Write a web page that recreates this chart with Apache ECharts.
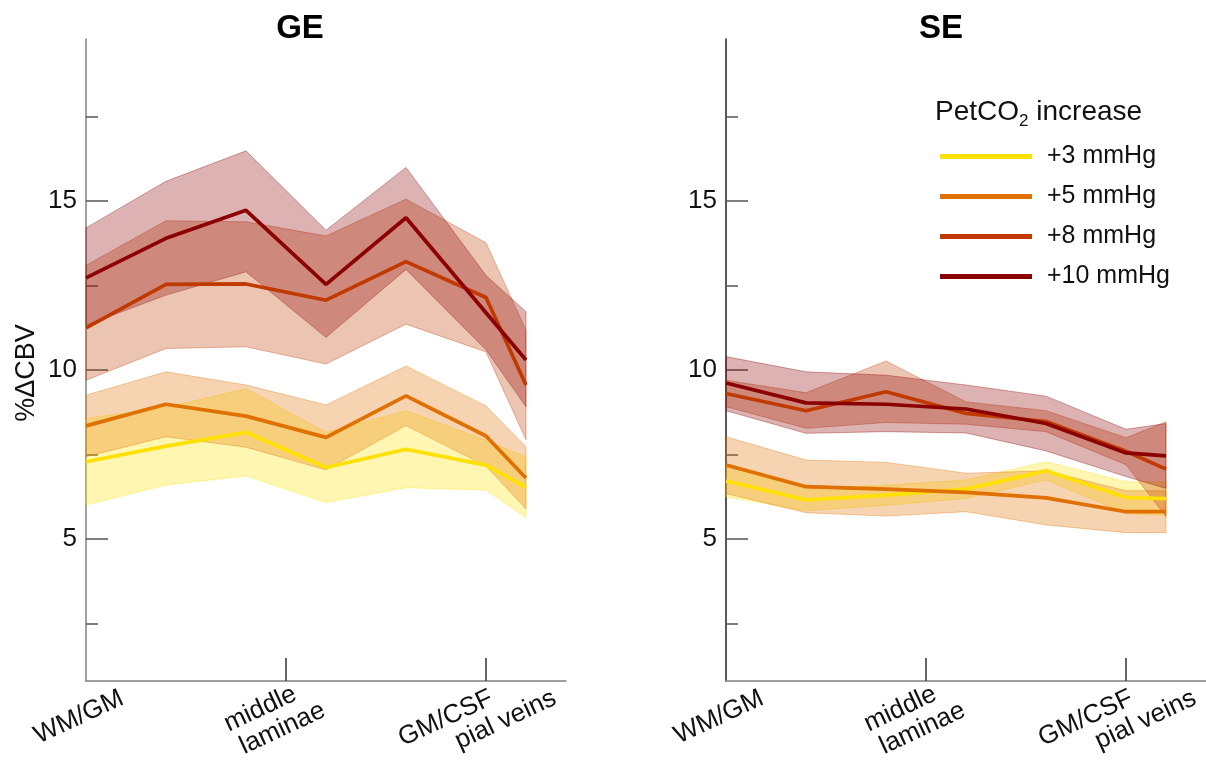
<!DOCTYPE html>
<html><head><meta charset="utf-8">
<script src="https://cdn.jsdelivr.net/npm/echarts@6/dist/echarts.min.js"></script>
<style>html,body{margin:0;padding:0;background:#fff}#c{width:1206px;height:760px}</style>
</head><body><div id="c"></div>
<script>
// ---------- data ----------
const depth = [0, 1, 2, 3, 4, 5, 5.5];
const xTickValues = [2.5, 5];
const xLabelValues = [0, 2.5, 5, 5.5];
const xLabelTexts = ['WM/GM', 'middle\nlaminae', 'GM/CSF', 'pial veins'];
const yLabelValues = [5, 10, 15];
const yMinorTickValues = [2.5, 7.5, 12.5, 17.5];
const panelTitles = ['GE', 'SE'];
const seriesNames = ['+3 mmHg', '+5 mmHg', '+8 mmHg', '+10 mmHg'];

// GE
const GE_3_mean  = [7.29, 7.75, 8.16, 7.12, 7.66, 7.19, 6.53];
const GE_3_lower = [6.01, 6.60, 6.87, 6.08, 6.52, 6.45, 5.64];
const GE_3_upper = [8.57, 8.90, 9.45, 8.16, 8.80, 7.93, 7.42];
const GE_5_mean  = [8.35, 8.99, 8.64, 8.01, 9.24, 8.05, 6.81];
const GE_5_lower = [7.44, 8.03, 7.72, 7.05, 8.36, 7.16, 5.89];
const GE_5_upper = [9.26, 9.95, 9.56, 8.97, 10.12, 8.94, 7.73];
const GE_8_mean  = [11.25, 12.54, 12.55, 12.07, 13.21, 12.15, 9.56];
const GE_8_lower = [9.70, 10.64, 10.69, 10.18, 11.36, 10.54, 7.94];
const GE_8_upper = [13.10, 14.42, 14.39, 13.97, 15.06, 13.77, 11.18];
const GE_10_mean  = [12.73, 13.90, 14.73, 12.54, 14.51, 11.70, 10.30];
const GE_10_lower = [11.33, 12.22, 12.91, 10.97, 12.98, 10.60, 8.92];
const GE_10_upper = [14.21, 15.59, 16.49, 14.14, 16.00, 12.80, 11.73];

// SE
const SE_3_mean  = [6.72, 6.16, 6.30, 6.48, 7.02, 6.23, 6.20];
const SE_3_lower = [6.25, 5.84, 6.00, 6.20, 6.75, 5.76, 5.70];
const SE_3_upper = [7.15, 6.48, 6.60, 6.75, 7.29, 6.70, 6.70];
const SE_5_mean  = [7.19, 6.55, 6.48, 6.38, 6.22, 5.81, 5.81];
const SE_5_lower = [6.35, 5.78, 5.68, 5.81, 5.42, 5.19, 5.19];
const SE_5_upper = [8.03, 7.34, 7.27, 6.95, 7.02, 6.43, 6.43];
const SE_8_mean  = [9.31, 8.80, 9.36, 8.72, 8.48, 7.60, 7.07];
const SE_8_lower = [8.92, 8.28, 8.45, 8.40, 8.18, 7.20, 5.67];
const SE_8_upper = [9.70, 9.33, 10.27, 9.06, 8.80, 8.00, 8.47];
const SE_10_mean  = [9.62, 9.03, 8.99, 8.85, 8.42, 7.55, 7.46];
const SE_10_lower = [8.80, 8.13, 8.18, 8.14, 7.61, 6.85, 6.50];
const SE_10_upper = [10.40, 9.95, 9.85, 9.56, 9.23, 8.25, 8.42];

// ---------- style ----------
const colors = [[255, 224, 0], [224, 112, 0], [192, 58, 0], [139, 0, 0]];
const FONT = "'Liberation Sans', Arial, sans-serif";
const rgba = (c, a) => `rgba(${c[0]},${c[1]},${c[2]},${a})`;
// label anchor shift along x (layout only)
const xLabelShift = [0.45, 0.40, 0.07, 0.36];

const panels = [
  {means: [GE_3_mean, GE_5_mean, GE_8_mean, GE_10_mean],
   lowers: [GE_3_lower, GE_5_lower, GE_8_lower, GE_10_lower],
   uppers: [GE_3_upper, GE_5_upper, GE_8_upper, GE_10_upper]},
  {means: [SE_3_mean, SE_5_mean, SE_8_mean, SE_10_mean],
   lowers: [SE_3_lower, SE_5_lower, SE_8_lower, SE_10_lower],
   uppers: [SE_3_upper, SE_5_upper, SE_8_upper, SE_10_upper]}
];

function bandRender(c) {
  return function (params, api) {
    if (params.dataIndexInside !== 0) return null;
    const n = params.dataInsideLength;
    const up = [], lo = [];
    for (let i = 0; i < n; i++) {
      up.push(api.coord([api.value(0, i), api.value(2, i)]));
      lo.push(api.coord([api.value(0, i), api.value(1, i)]));
    }
    return {
      type: 'polygon',
      shape: {points: up.concat(lo.reverse())},
      style: {fill: rgba(c, 0.3), stroke: rgba(c, 0.35), lineWidth: 1}
    };
  };
}

const grids = [], xAxes = [], yAxes = [], series = [], titles = [];
const gridLefts = [86, 726];
const titleCenters = [295, 936];
panels.forEach((p, k) => {
  grids.push({left: gridLefts[k], top: 39, width: 480, height: 642,
              containLabel: false, outerBoundsMode: 'none'});
  xAxes.push({
    type: 'value', gridIndex: k, min: 0, max: 6,
    axisLine: {show: true, lineStyle: {color: '#808080', width: 1.5}},
    splitLine: {show: false},
    axisTick: {show: true, inside: true, length: 23, customValues: xTickValues,
               lineStyle: {color: '#333', width: 1.5}},
    axisLabel: {
      show: true, rotate: 25, margin: 16, fontSize: 26, color: '#111', fontFamily: FONT,
      hideOverlap: false,
      customValues: xLabelValues.map((v, i) => v + xLabelShift[i]),
      formatter: function (val) {
        let best = 0;
        xLabelValues.forEach((v, i) => {
          if (Math.abs(v + xLabelShift[i] - val) < Math.abs(xLabelValues[best] + xLabelShift[best] - val)) best = i;
        });
        const t = xLabelTexts[best];
        if (t.indexOf('\n') >= 0) {
          const parts = t.split('\n');
          return '{m|' + parts[0] + '}\n{l|' + parts[1] + '}';
        }
        return t;
      },
      rich: {
        m: {fontSize: 26, fontFamily: FONT, color: '#111', padding: [0, 19, 0, 0], lineHeight: 27},
        l: {fontSize: 26, fontFamily: FONT, color: '#111', lineHeight: 27}
      }
    }
  });
  yAxes.push({
    type: 'value', gridIndex: k, min: 0.8, max: 19.8, position: 'left',
    name: k === 0 ? '%ΔCBV' : '', nameLocation: 'middle', nameGap: 46,
    nameTextStyle: {fontSize: 27, fontFamily: FONT, color: '#111', padding: [0, 26, 0, 0]},
    axisLine: {show: true, lineStyle: {color: k === 0 ? '#808080' : '#222', width: 1.5}},
    splitLine: {show: false},
    axisTick: {show: true, inside: true, length: 22, customValues: yLabelValues,
               lineStyle: {color: '#555', width: 1.5}},
    axisLabel: {show: true, customValues: yLabelValues, margin: 9, fontSize: 26,
                fontFamily: FONT, color: '#111'}
  });
  yAxes.push({
    type: 'value', gridIndex: k, min: 0.8, max: 19.8, position: 'left', offset: 0,
    axisLine: {show: false}, splitLine: {show: false},
    axisTick: {show: true, inside: true, length: 12, customValues: yMinorTickValues,
               lineStyle: {color: '#555', width: 1.5}},
    axisLabel: {show: false}
  });
  titles.push({text: panelTitles[k], left: titleCenters[k], top: 7, textAlign: 'center',
               textStyle: {fontSize: 33, fontWeight: 'bold', fontFamily: FONT, color: '#000'}});
  // bands
  for (let s = 0; s < 4; s++) {
    series.push({
      type: 'custom', name: 'band ' + seriesNames[s], xAxisIndex: k, yAxisIndex: 2 * k,
      renderItem: bandRender(colors[s]), z: 2, silent: true,
      encode: {x: 0, y: [1, 2]},
      data: depth.map((d, i) => [d, p.lowers[s][i], p.uppers[s][i]])
    });
  }
  // mean lines
  for (let s = 0; s < 4; s++) {
    series.push({
      type: 'line', name: seriesNames[s], xAxisIndex: k, yAxisIndex: 2 * k,
      symbol: 'none', showSymbol: false, z: 3, silent: true,
      color: rgba(colors[s], 1),
      lineStyle: {width: 3.7, color: rgba(colors[s], 1)},
      data: depth.map((d, i) => [d, p.means[s][i]])
    });
  }
});

titles.push({
  text: '{a|PetCO}{s|2}{a| increase}', left: 930, top: 91,
  textStyle: {fontWeight: 'normal', rich: {
    a: {fontSize: 28, fontFamily: FONT, color: '#111', lineHeight: 32, fontWeight: 'normal'},
    s: {fontSize: 17, fontFamily: FONT, color: '#111', lineHeight: 32, padding: [18, 0, 0, 0], fontWeight: 'normal'}
  }}
});

const chart = echarts.init(document.getElementById('c'), null, {renderer: 'canvas'});
chart.setOption({
  animation: false,
  backgroundColor: '#fff',
  title: titles,
  grid: grids,
  xAxis: xAxes,
  yAxis: yAxes,
  legend: {
    data: seriesNames, orient: 'vertical', left: 935, top: 139,
    itemWidth: 92, itemHeight: 5, itemGap: 15, icon: 'rect',
    selectedMode: false,
    textStyle: {fontSize: 25, fontFamily: FONT, color: '#111', lineHeight: 24, padding: [0, 0, 0, 10]}
  },
  series: series
});
</script></body></html>
